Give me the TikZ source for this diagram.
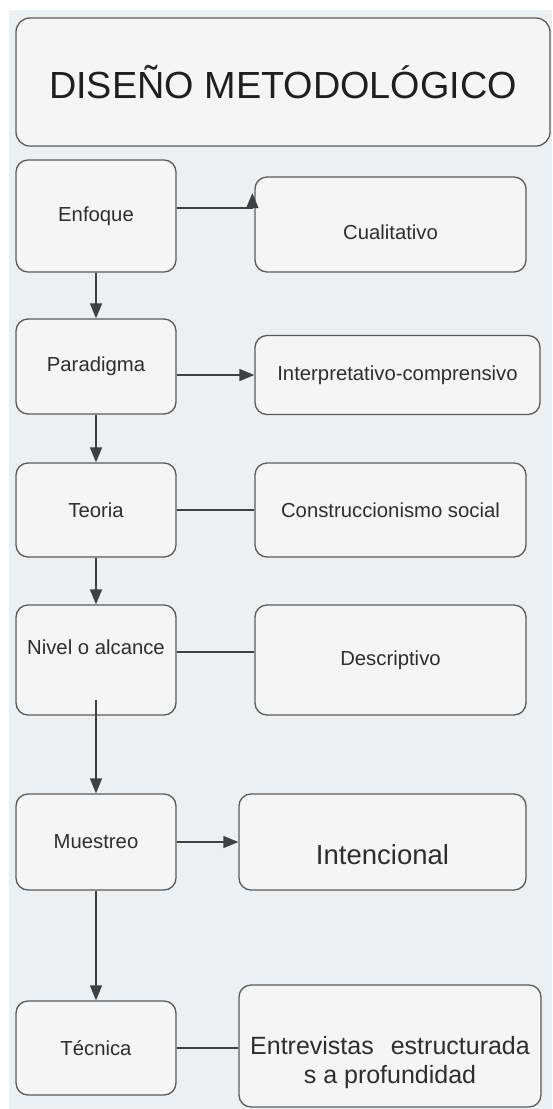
\documentclass[tikz,border=0pt]{standalone}
\usepackage{fontspec}
\setmainfont{Liberation Sans}
\usetikzlibrary{arrows.meta}
\definecolor{bgc}{HTML}{EDF0F2}
\definecolor{boxfill}{HTML}{F5F5F5}
\definecolor{boxline}{HTML}{5A5A5A}
\definecolor{txt}{HTML}{2E2E2E}
\definecolor{linec}{HTML}{404040}
\newcommand{\lowered}[2]{\raisebox{#1}[\height][\depth]{#2}}
\tikzset{
  box/.style={draw=boxline, fill=boxfill, line width=1.3pt, rounded corners=12pt,
    inner sep=0pt, text=txt, align=center, font=\fontsize{20.3}{24}\selectfont},
  leftbox/.style={box, minimum width=160pt},
  conn/.style={draw=linec, line width=1.4pt},
  arr/.style={conn, -{Triangle[length=15pt,width=12pt]}},
}
\begin{document}
\begin{tikzpicture}[x=1pt,y=-1pt]
\useasboundingbox (0,0) rectangle (552,1109);
\fill[white] (0,0) rectangle (552,1109);
\fill[bgc] (9,10) rectangle (552,1109);

\node[box, rounded corners=14pt, minimum width=534pt, minimum height=128pt,
  text=black!88, font=\fontsize{37.8}{44}\selectfont] (title) at (283,82) {DISEÑO METODOLÓGICO};

\node[leftbox, minimum height=112pt] (enf) at (96,216) {Enfoque};
\node[box, minimum width=271pt, minimum height=95pt] (cual) at (390.5,224.5) {\lowered{-8pt}{Cualitativo}};

\node[leftbox, minimum height=95pt] (par) at (96,366.5) {Paradigma};
\node[box, minimum width=285pt, minimum height=79pt] (interp) at (397.5,375) {Interpretativo-comprensivo};

\node[leftbox, minimum height=94pt] (teo) at (96,510) {Teoria};
\node[box, minimum width=271pt, minimum height=94pt] (cons) at (390.5,510) {Construccionismo social};

\node[leftbox, minimum height=110pt] (niv) at (96,660) {\lowered{13pt}{Nivel o alcance}};
\node[box, minimum width=271pt, minimum height=110pt] (desc) at (390.5,660) {Descriptivo};

\node[leftbox, minimum height=96pt] (mue) at (96,842) {Muestreo};
\node[box, minimum width=287pt, minimum height=96pt, font=\fontsize{27.5}{32}\selectfont] (inten) at (382.5,842) {\lowered{-13pt}{Intencional}};

\node[leftbox, minimum height=94pt] (tec) at (96,1048) {Técnica};
\node[box, minimum width=302pt, minimum height=122pt, font=\fontsize{25}{30}\selectfont] (entr) at (390,1046)
  {\lowered{-17pt}{\begin{tabular}{@{}c@{}}Entrevistas\hspace{17pt}estructurada\\[-1pt] s a profundidad\end{tabular}}};

% vertical connectors
\draw[arr] (enf.south) -- (par.north);
\draw[arr] (par.south) -- (teo.north);
\draw[arr] (teo.south) -- (niv.north);
\draw[arr] ([yshift=16pt]niv.south) -- (mue.north);
\draw[arr] (mue.south) -- (tec.north);

% horizontal connectors
\coordinate (e1) at ([yshift=8pt]enf.east);
\coordinate (e2) at ([xshift=-2pt]e1 -| cual.west);
\draw[conn] (e1) -- (e2);
\draw[arr] (e2) -- ([yshift=15pt]e2);
\draw[arr] (par.east |- interp.west) -- (interp.west);
\draw[conn] (teo.east) -- (teo.east -| cons.west);
\coordinate (n1) at ([yshift=8pt]niv.east);
\draw[conn] (n1) -- (n1 -| desc.west);
\draw[arr] (mue.east) -- (inten.west);
\draw[conn] (tec.east) -- (tec.east -| entr.west);
\end{tikzpicture}
\end{document}
